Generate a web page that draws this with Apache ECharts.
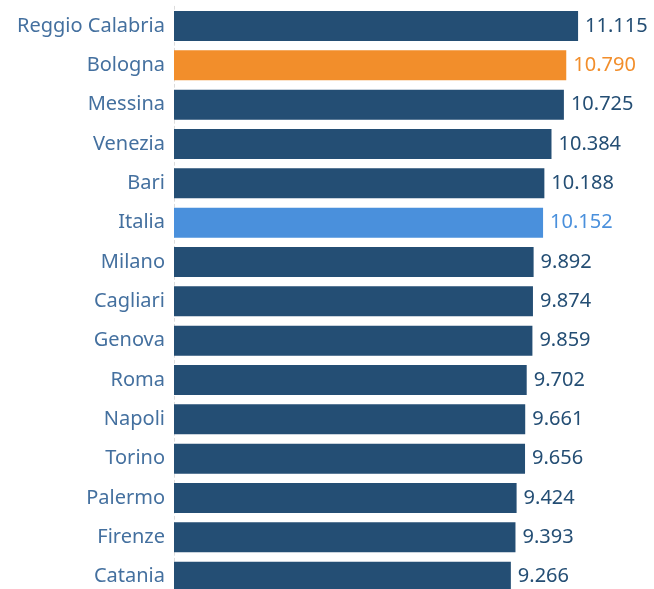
<!DOCTYPE html>
<html>
<head>
<meta charset="utf-8">
<script src="https://cdn.jsdelivr.net/npm/echarts@6/dist/echarts.min.js"></script>
<style>html,body{margin:0;padding:0;background:#fff;overflow:hidden;}#c{width:654px;height:597px;}</style>
</head>
<body>
<div id="c"></div>
<script>
const categories = ["Reggio Calabria","Bologna","Messina","Venezia","Bari","Italia","Milano","Cagliari","Genova","Roma","Napoli","Torino","Palermo","Firenze","Catania"];
const values = [11115,10790,10725,10384,10188,10152,9892,9874,9859,9702,9661,9656,9424,9393,9266];
const highlightOrange = ["Bologna"];
const highlightBlue = ["Italia"];

const colNavy = "#244e74", colOrange = "#f28e2b", colBlue = "#4a90dc";
function colorFor(name){
  if (highlightOrange.includes(name)) return colOrange;
  if (highlightBlue.includes(name)) return colBlue;
  return colNavy;
}
function fmt(v){ return String(v).replace(/\B(?=(\d{3})+(?!\d))/g, "."); }

const chart = echarts.init(document.getElementById('c'));
chart.setOption({
  animation: false,
  grid: { left: 174, top: 6.3, width: 472.6, height: 590, containLabel: false },
  xAxis: { type: 'value', min: 0, max: 13000, show: false },
  yAxis: {
    type: 'category', data: categories, inverse: true,
    axisLine: { show: true, lineStyle: { color: '#dcdcdc', type: [3,3], width: 1 } },
    axisTick: { show: false },
    axisLabel: { color: '#44709f', fontSize: 20, fontFamily: 'Noto Sans', margin: 9, padding: [4,0,0,0] }
  },
  series: [{
    type: 'bar', barWidth: 30,
    data: categories.map((c,i)=>({ value: values[i], itemStyle: { color: colorFor(c) },
      label: { color: colorFor(c) } })),
    label: { show: true, position: 'right', distance: 7, fontSize: 20, fontFamily: 'Noto Sans',
      padding: [4,0,0,0], formatter: p => fmt(p.value) }
  }]
});
</script>
</body>
</html>
